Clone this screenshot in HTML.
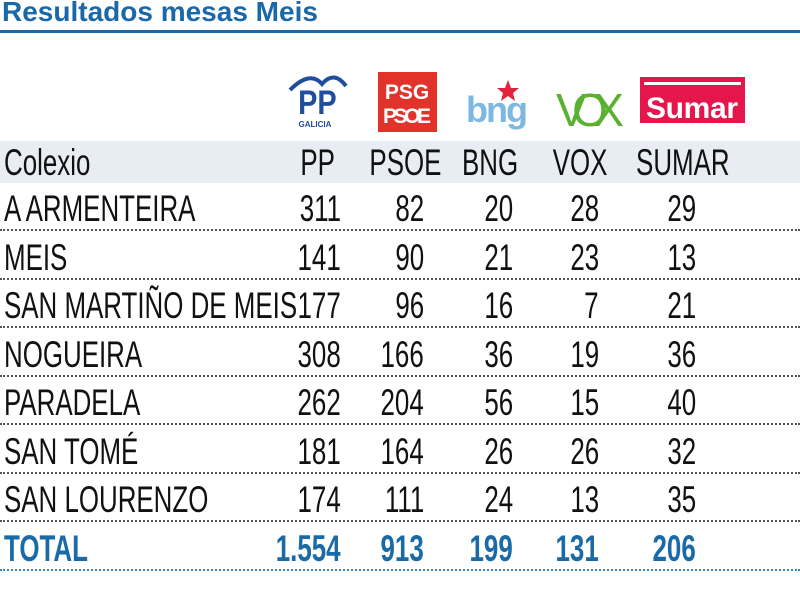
<!DOCTYPE html>
<html><head><meta charset="utf-8"><style>
body{margin:0;width:800px;height:600px;overflow:hidden;background:#fff;position:relative;font-family:"Liberation Sans",sans-serif}
.a{position:absolute}
.title{left:2px;top:-4px;font-size:28px;font-weight:bold;color:#1a68a8;white-space:nowrap}
.rule{left:0;top:30px;width:800px;height:3px;background:#1a68a8}
.hdrbg{left:0;top:141px;width:800px;height:42px;background:#e8ecf3}
.row{position:absolute;left:0;width:800px;height:48px;border-bottom:2px dotted #555;box-sizing:border-box}
.c{position:absolute;top:5px;font-size:37px;line-height:42px;white-space:nowrap;color:#111}
.c span{display:inline-block;transform:scaleX(0.70)}
.l span{transform-origin:left center}
.r span{transform-origin:right center}
.m span{transform-origin:center center}
.tot .c{font-weight:bold;color:#1a6aa8}
.tot{border-bottom-color:#3a8ac8}
</style></head><body>
<div class="a title">Resultados mesas Meis</div>
<div class="a rule"></div>

<svg class="a" style="left:280px;top:68px" width="480" height="70">
 <g>
  <path d="M10 22 Q30 2 42 16 Q54 2 66 18" stroke="#1f4e9e" stroke-width="4" fill="none"/>
  <text x="38" y="46" font-size="34" font-weight="bold" fill="#1f4e9e" text-anchor="middle" font-family="Liberation Sans" transform="scale(0.85,1) translate(6,0)">PP</text>
  <text x="35" y="59" font-size="8" font-weight="bold" fill="#1f4e9e" text-anchor="middle">GALICIA</text>
 </g>
 <g>
  <rect x="98" y="4" width="59" height="60" fill="#e2332b"/>
  <text x="127" y="31" font-size="21" font-weight="bold" fill="#fff" text-anchor="middle">PSG</text>
  <text x="127" y="55" font-size="21" font-weight="bold" fill="#fff" text-anchor="middle" textLength="48">PSOE</text>
 </g>
 <g>
  <text x="217" y="54" font-size="36" font-weight="bold" fill="#7cb8e2" text-anchor="middle" textLength="62">bng</text>
  <polygon points="228,12 231,20 239,20 233,25 235,33 228,28 221,33 223,25 217,20 225,20" fill="#e2233b"/>
 </g>
 <g>
  <text x="310" y="58" font-size="46" fill="#5ab031" text-anchor="middle" textLength="68">VOX</text>
 </g>
 <g>
  <rect x="360" y="9" width="105" height="46" fill="#e5164b"/>
  <rect x="364" y="14" width="97" height="3" fill="#fff"/>
  <text x="412" y="50" font-size="30" font-weight="bold" fill="#fff" text-anchor="middle" textLength="92">Sumar</text>
 </g>
</svg>

<div class="a hdrbg"></div>
<div id="tbl"></div>

<script>
const parties=["PP","PSOE","BNG","VOX","SUMAR"];
const colexios=["A ARMENTEIRA","MEIS","SAN MARTIÑO DE MEIS","NOGUEIRA","PARADELA","SAN TOMÉ","SAN LOURENZO"];
const ppVals=[311,141,177,308,262,181,174];
const psoeVals=[82,90,96,166,204,164,111];
const bngVals=[20,21,16,36,56,26,24];
const voxVals=[28,23,7,19,15,26,13];
const sumarVals=[29,13,21,36,40,32,35];
const totals=["1.554","913","199","131","206"];
const series=[ppVals,psoeVals,bngVals,voxVals,sumarVals];
const rightEdge=[341,424,513,599,696];
const headerCenter=[318,405,490,580,676];
const tbl=document.getElementById('tbl');
function cell(parent,txt,cls,left,right){
 const d=document.createElement('div');
 d.className='c '+cls;
 if(left!=null)d.style.left=left+'px';
 if(right!=null)d.style.right=right+'px';
 const s=document.createElement('span');s.textContent=txt;d.appendChild(s);
 parent.appendChild(d);return d;
}
const h=document.createElement('div');
h.className='row';h.style.top='137px';h.style.borderBottom='none';


tbl.appendChild(h);
const hc=cell(h,'Colexio','l',4,null);


parties.forEach((p,j)=>{
 const d=cell(h,p,'m',headerCenter[j]-60,null);
 d.style.width='120px';d.style.textAlign='center';
 
 
});
colexios.forEach((name,i)=>{
 const r=document.createElement('div');
 r.className='row';r.style.top=(183+48.5*i)+'px';
 
 
 tbl.appendChild(r);
 const n=cell(r,name,'l',4,null);
 
 
 series.forEach((arr,j)=>{
  const d=cell(r,String(arr[i]),'r',null,800-rightEdge[j]);
  
  
 });
});
const t=document.createElement('div');
t.className='row tot';t.style.top=(183+48.5*7)+'px';


tbl.appendChild(t);
const tl=cell(t,'TOTAL','l',4,null);


totals.forEach((v,j)=>{
 const d=cell(t,v,'r',null,800-rightEdge[j]);
 
 
});
</script>
</body></html>
